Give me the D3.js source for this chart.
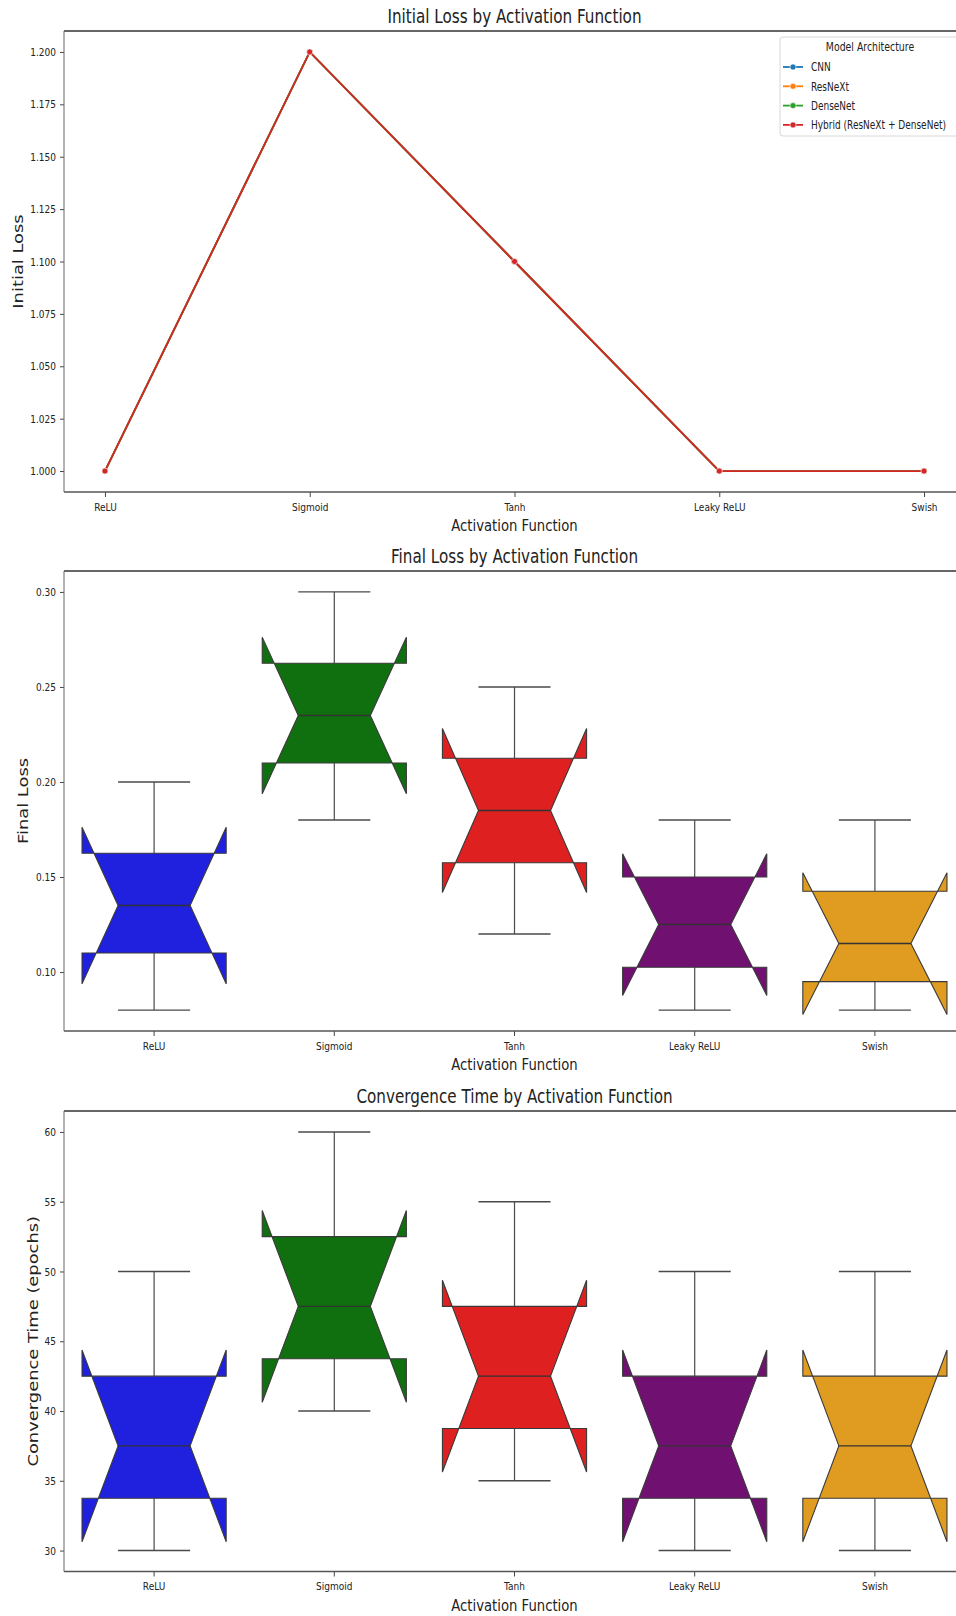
<!DOCTYPE html>
<html>
<head>
<meta charset="utf-8">
<script src="https://cdn.jsdelivr.net/npm/d3@7"></script>
<style>
  body { margin: 0; background: #fff; }
  text { font-family: "DejaVu Sans", sans-serif; fill: #222; }
</style>
</head>
<body>
<script>
// categories
var activations = ["ReLU", "Sigmoid", "Tanh", "Leaky ReLU", "Swish"];
var architectures = ["CNN", "ResNeXt", "DenseNet", "Hybrid (ResNeXt + DenseNet)"];

// initial loss, one array per architecture (same order as activations)
var initCNN = [1.0, 1.2, 1.1, 1.0, 1.0];
var initResNeXt = [1.0, 1.2, 1.1, 1.0, 1.0];
var initDenseNet = [1.0, 1.2, 1.1, 1.0, 1.0];
var initHybrid = [1.0, 1.2, 1.1, 1.0, 1.0];

// final loss, one array per activation (values of CNN, ResNeXt, DenseNet, Hybrid)
var finalReLU = [0.20, 0.15, 0.12, 0.08];
var finalSigmoid = [0.30, 0.25, 0.22, 0.18];
var finalTanh = [0.25, 0.20, 0.17, 0.12];
var finalLeaky = [0.18, 0.14, 0.11, 0.08];
var finalSwish = [0.18, 0.13, 0.10, 0.08];

// convergence time in epochs, one array per activation
var convReLU = [50, 40, 35, 30];
var convSigmoid = [60, 50, 45, 40];
var convTanh = [55, 45, 40, 35];
var convLeaky = [50, 40, 35, 30];
var convSwish = [50, 40, 35, 30];

// tick labels
var initTicks = [1.000, 1.025, 1.050, 1.075, 1.100, 1.125, 1.150, 1.175, 1.200];
var finalTicks = [0.10, 0.15, 0.20, 0.25, 0.30];
var convTicks = [30, 35, 40, 45, 50, 55, 60];

var archColors = ["#1f77b4", "#ff7f0e", "#2ca02c", "#d62728"];
var boxColors = ["#2020df", "#107010", "#df2020", "#701070", "#df9c20"];

var W = 956, H = 1616;
var xL = 64, xR = 965;
var svg = d3.select("body").append("svg").attr("width", W).attr("height", H);
svg.append("rect").attr("width", W).attr("height", H).attr("fill", "#fff");

// the picture is stretched vertically, so text is squeezed sideways
function squash(sel, k) {
  sel.each(function() {
    var w = this.getComputedTextLength();
    this.setAttribute("textLength", w * k);
    this.setAttribute("lengthAdjust", "spacingAndGlyphs");
  });
}

function frame(top, bottom) {
  svg.append("line").attr("x1", xL).attr("x2", xR).attr("y1", top).attr("y2", top)
    .attr("stroke", "#333").attr("stroke-width", 1.4);
  svg.append("line").attr("x1", xL).attr("x2", xR).attr("y1", bottom).attr("y2", bottom)
    .attr("stroke", "#555").attr("stroke-width", 1.4);
  svg.append("line").attr("x1", xL).attr("x2", xL).attr("y1", top).attr("y2", bottom)
    .attr("stroke", "#666").attr("stroke-width", 1);
}

function axes(x, y, top, bottom, ticks, fmt, title, ylab, ylabX) {
  var gy = svg.append("g").attr("transform", "translate(" + xL + ",0)")
    .call(d3.axisLeft(y).tickValues(ticks).tickFormat(fmt).tickSize(4).tickPadding(4));
  var gx = svg.append("g").attr("transform", "translate(0," + bottom + ")")
    .call(d3.axisBottom(x).tickSize(5).tickPadding(6));
  [gx, gy].forEach(function(g) {
    g.select(".domain").remove();
    g.selectAll("line").attr("stroke", "#444");
    g.selectAll("text").attr("font-size", 11.25).attr("fill", "#222")
      .style("font-family", "DejaVu Sans");
    squash(g.selectAll("text"), 0.8);
  });
  frame(top, bottom);

  var t = svg.append("text").attr("x", (xL + xR) / 2).attr("y", top - 8)
    .attr("text-anchor", "middle").attr("font-size", 19).text(title);
  squash(t, 0.8);
  var xl = svg.append("text").attr("x", (xL + xR) / 2).attr("y", bottom + 39)
    .attr("text-anchor", "middle").attr("font-size", 16.5).text("Activation Function");
  squash(xl, 0.8);
  var yl = svg.append("text")
    .attr("transform", "translate(" + ylabX + "," + (top + bottom) / 2 + ") rotate(-90)")
    .attr("text-anchor", "middle").attr("font-size", 14.3).text(ylab);
  squash(yl, 1.25);
}

// ---------- panel 1: line chart ----------
var top1 = 31, bot1 = 492;
var x1 = d3.scalePoint().domain(activations).range([xL, xR]).padding(0.2);
var y1 = d3.scaleLinear().domain([0.99, 1.21]).range([bot1, top1]);
axes(x1, y1, top1, bot1, initTicks, d3.format(".3f"),
  "Initial Loss by Activation Function", "Initial Loss", 22.7);

var initSeries = [initCNN, initResNeXt, initDenseNet, initHybrid];
var line1 = d3.line().x(function(d, i) { return x1(activations[i]); }).y(function(d) { return y1(d); });
initSeries.forEach(function(s, k) {
  svg.append("path").attr("d", line1(s)).attr("fill", "none")
    .attr("stroke", archColors[k]).attr("stroke-width", 1.8);
  svg.selectAll(null).data(s).enter().append("circle")
    .attr("cx", function(d, i) { return x1(activations[i]); })
    .attr("cy", function(d) { return y1(d); })
    .attr("r", 3).attr("fill", archColors[k]).attr("stroke", "#fff").attr("stroke-width", 0.6);
});

// legend (right side runs off the picture, as in the original)
var lg = svg.append("g").attr("transform", "translate(780,37)");
lg.append("rect").attr("x", 0).attr("y", 0).attr("width", 190).attr("height", 99)
  .attr("rx", 3).attr("fill", "#fff").attr("fill-opacity", 0.8)
  .attr("stroke", "#d8d8d8").attr("stroke-width", 1);
lg.append("text").attr("transform", "translate(90,14) scale(0.78,1)")
  .attr("text-anchor", "middle").attr("font-size", 12).text("Model Architecture");
architectures.forEach(function(a, i) {
  var yy = 30 + i * 19.3;
  lg.append("line").attr("x1", 3).attr("x2", 23).attr("y1", yy).attr("y2", yy)
    .attr("stroke", archColors[i]).attr("stroke-width", 1.8);
  lg.append("circle").attr("cx", 13).attr("cy", yy).attr("r", 3)
    .attr("fill", archColors[i]).attr("stroke", "#fff").attr("stroke-width", 0.6);
  lg.append("text").attr("transform", "translate(31," + (yy + 4.3) + ") scale(0.75,1)")
    .attr("font-size", 12).text(a);
});

// ---------- box panels ----------
function boxStats(vals) {
  var s = vals.slice().sort(d3.ascending);
  var q1 = d3.quantile(s, 0.25), med = d3.quantile(s, 0.5), q3 = d3.quantile(s, 0.75);
  var iqr = q3 - q1;
  var lo = d3.min(s.filter(function(v) { return v >= q1 - 1.5 * iqr; }));
  var hi = d3.max(s.filter(function(v) { return v <= q3 + 1.5 * iqr; }));
  var nd = 1.57 * iqr / Math.sqrt(s.length);
  return { q1: q1, med: med, q3: q3, lo: lo, hi: hi, nlo: med - nd, nhi: med + nd };
}

function boxPanel(top, bottom, domain, data, ticks, fmt, title, ylab, ylabX) {
  var x = d3.scaleBand().domain(activations).range([xL, xR]).paddingInner(0.2).paddingOuter(0.1);
  var y = d3.scaleLinear().domain(domain).range([bottom, top]);
  var bw = x.bandwidth();
  data.forEach(function(vals, i) {
    var st = boxStats(vals);
    var cx = x(activations[i]) + bw / 2;
    var L = cx - bw / 2, R = cx + bw / 2, cL = cx - bw / 4, cR = cx + bw / 4;
    var wc = "#4a4a4a";
    // whiskers and caps
    svg.append("line").attr("x1", cx).attr("x2", cx).attr("y1", y(st.q1)).attr("y2", y(st.lo))
      .attr("stroke", wc).attr("stroke-width", 1.2);
    svg.append("line").attr("x1", cx).attr("x2", cx).attr("y1", y(st.q3)).attr("y2", y(st.hi))
      .attr("stroke", wc).attr("stroke-width", 1.2);
    [st.lo, st.hi].forEach(function(v) {
      svg.append("line").attr("x1", cx - bw / 4).attr("x2", cx + bw / 4)
        .attr("y1", y(v)).attr("y2", y(v)).attr("stroke", wc).attr("stroke-width", 1.4);
    });
    // notched box
    var pts = [[L, st.q1], [R, st.q1], [R, st.nlo], [cR, st.med], [R, st.nhi], [R, st.q3],
               [L, st.q3], [L, st.nhi], [cL, st.med], [L, st.nlo]];
    var ln = d3.line().x(function(p) { return p[0]; }).y(function(p) { return y(p[1]); });
    svg.append("path").attr("d", ln(pts) + "Z").attr("fill", boxColors[i])
      .attr("stroke", "#3a3a3a").attr("stroke-width", 1.1).attr("stroke-linejoin", "miter");
    svg.append("line").attr("x1", cL).attr("x2", cR).attr("y1", y(st.med)).attr("y2", y(st.med))
      .attr("stroke", "#333").attr("stroke-width", 1.4);
  });
  axes(x, y, top, bottom, ticks, fmt, title, ylab, ylabX);
}

boxPanel(571, 1031, [0.069, 0.311],
  [finalReLU, finalSigmoid, finalTanh, finalLeaky, finalSwish],
  finalTicks, d3.format(".2f"), "Final Loss by Activation Function", "Final Loss", 28.3);

boxPanel(1111, 1571.5, [28.5, 61.5],
  [convReLU, convSigmoid, convTanh, convLeaky, convSwish],
  convTicks, d3.format("d"), "Convergence Time by Activation Function",
  "Convergence Time (epochs)", 38.3);
</script>
</body>
</html>
